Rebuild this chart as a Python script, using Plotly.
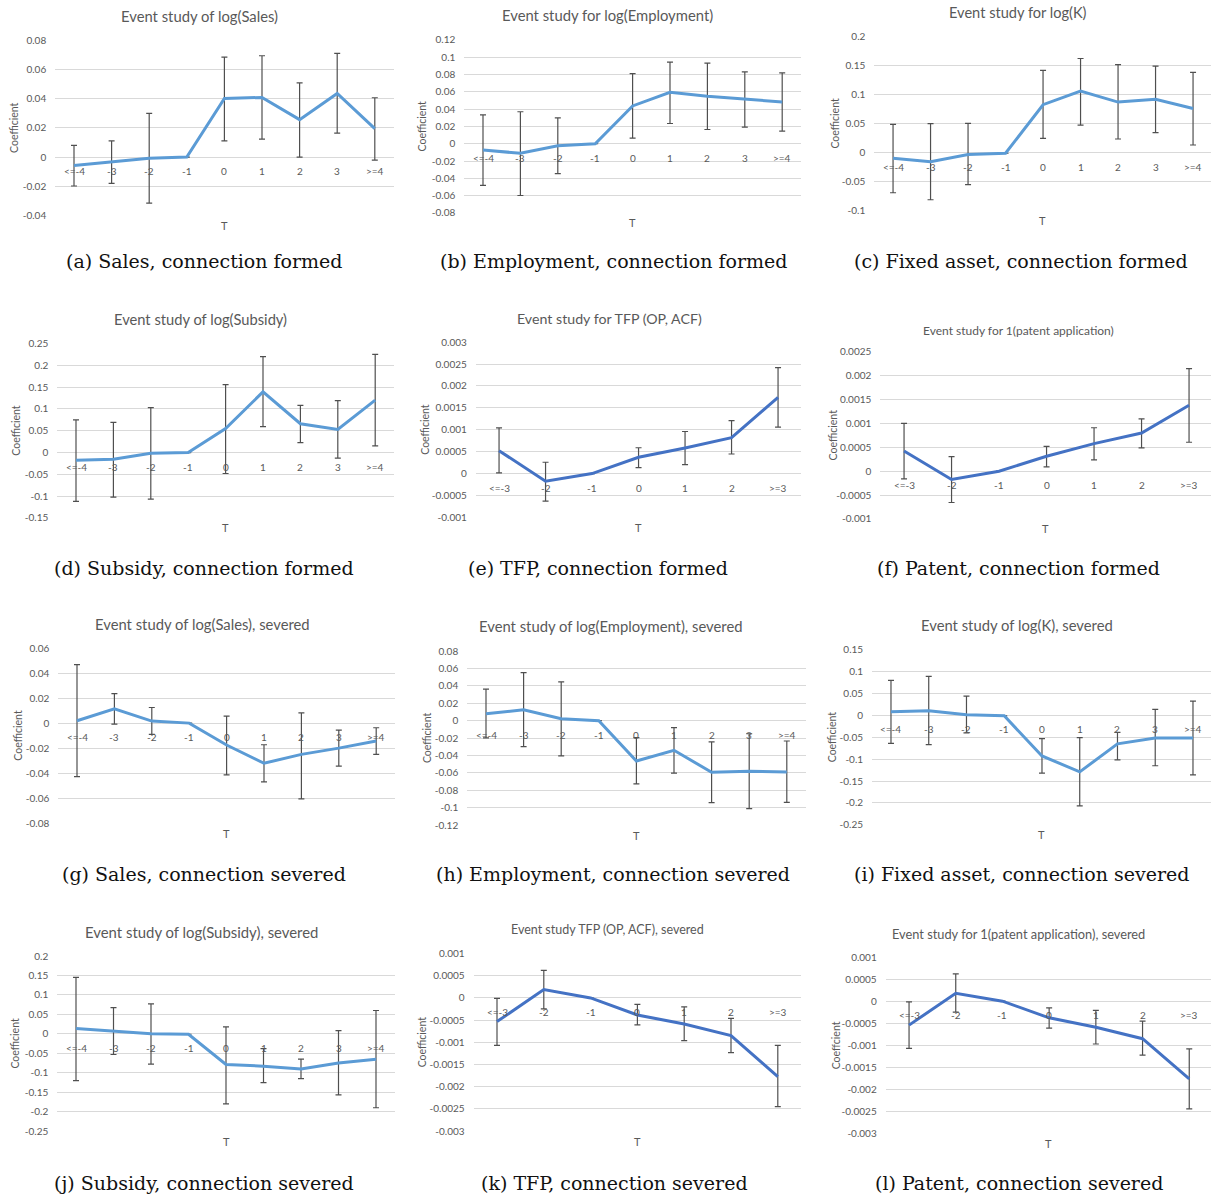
import plotly.graph_objects as go

W, H = 1211, 1199

# ---------------------------------------------------------------- data
cats_long = ["<=-4", "-3", "-2", "-1", "0", "1", "2", "3", ">=4"]
cats_short = ["<=-3", "-2", "-1", "0", "1", "2", ">=3"]

# (a) log(Sales), connection formed
sales_f_coef = [-0.0057, -0.0030, -0.0007, 0.0, 0.0402, 0.0409, 0.0257, 0.0436, 0.0195]
sales_f_hi = [0.0080, 0.0111, 0.0300, None, 0.0686, 0.0695, 0.0509, 0.0711, 0.0407]
sales_f_lo = [-0.0198, -0.0180, -0.0316, None, 0.0111, 0.0123, 0.0000, 0.0164, -0.0020]
sales_f_ticks = [0.08, 0.06, 0.04, 0.02, 0, -0.02, -0.04]

# (b) log(Employment), connection formed
emp_f_coef = [-0.0073, -0.0110, -0.0023, 0.0, 0.0437, 0.0594, 0.0548, 0.0513, 0.0483]
emp_f_hi = [0.0333, 0.0370, 0.0300, None, 0.0810, 0.0943, 0.0931, 0.0831, 0.0820]
emp_f_lo = [-0.0480, -0.0598, -0.0345, None, 0.0065, 0.0234, 0.0165, 0.0192, 0.0146]
emp_f_ticks = [0.12, 0.1, 0.08, 0.06, 0.04, 0.02, 0, -0.02, -0.04, -0.06, -0.08]

# (c) log(K), connection formed
k_f_coef = [-0.0097, -0.0155, -0.0030, -0.0010, 0.0825, 0.1060, 0.0870, 0.0920, 0.0760]
k_f_hi = [0.0487, 0.0500, 0.0504, None, 0.1415, 0.1620, 0.1515, 0.1490, 0.1380]
k_f_lo = [-0.0690, -0.0810, -0.0550, None, 0.0246, 0.0475, 0.0235, 0.0344, 0.0132]
k_f_ticks = [0.2, 0.15, 0.1, 0.05, 0, -0.05, -0.1]

# (d) log(Subsidy), connection formed
sub_f_coef = [-0.0175, -0.0152, -0.0015, 0.0, 0.0550, 0.1390, 0.0660, 0.0530, 0.1200]
sub_f_hi = [0.0747, 0.0690, 0.1030, None, 0.1555, 0.2200, 0.1080, 0.1190, 0.2250]
sub_f_lo = [-0.1120, -0.1020, -0.1067, None, -0.0480, 0.0595, 0.0229, -0.0130, 0.0152]
sub_f_ticks = [0.25, 0.2, 0.15, 0.1, 0.05, 0, -0.05, -0.1, -0.15]

# (e) TFP (OP, ACF), connection formed
tfp_f_coef = [0.000523, -0.000174, 0.0, 0.000371, 0.000583, 0.000818, 0.00174]
tfp_f_hi = [0.001045, 0.000258, None, 0.00059, 0.00096, 0.00121, 0.00242]
tfp_f_lo = [0.000015, -0.000629, None, 0.000136, 0.000205, 0.000447, 0.00106]
tfp_f_ticks = [0.003, 0.0025, 0.002, 0.0015, 0.001, 0.0005, 0, -0.0005, -0.001]

# (f) 1(patent application), connection formed
pat_f_coef = [0.000425, -0.000174, 0.0, 0.000313, 0.000578, 0.0008, 0.00138]
pat_f_hi = [0.001, 0.000306, None, 0.00052, 0.00091, 0.001097, 0.00215]
pat_f_lo = [-0.00016, -0.000655, None, 0.00009, 0.000237, 0.000487, 0.000606]
pat_f_ticks = [0.0025, 0.002, 0.0015, 0.001, 0.0005, 0, -0.0005, -0.001]

# (g) log(Sales), connection severed
sales_s_coef = [0.0019, 0.0114, 0.0016, 0.0, -0.0175, -0.0321, -0.0250, -0.0200, -0.0143]
sales_s_hi = [0.0467, 0.0236, 0.0125, None, 0.0056, -0.0173, 0.0082, -0.0056, -0.0037]
sales_s_lo = [-0.0428, -0.0008, -0.0090, None, -0.0414, -0.0470, -0.0606, -0.0343, -0.0250]
sales_s_ticks = [0.06, 0.04, 0.02, 0, -0.02, -0.04, -0.06, -0.08]

# (h) log(Employment), connection severed
emp_s_coef = [0.0080, 0.0126, 0.0023, 0.0, -0.0462, -0.0340, -0.0592, -0.0580, -0.0588]
emp_s_hi = [0.0363, 0.0553, 0.0447, None, -0.0195, -0.0080, -0.0244, -0.0150, -0.0233]
emp_s_lo = [-0.0198, -0.0298, -0.0405, None, -0.0725, -0.0603, -0.0940, -0.1010, -0.0939]
emp_s_ticks = [0.08, 0.06, 0.04, 0.02, 0, -0.02, -0.04, -0.06, -0.08, -0.1, -0.12]

# (i) log(K), connection severed
k_s_coef = [0.0083, 0.0106, 0.0015, -0.0010, -0.0926, -0.1290, -0.0650, -0.0516, -0.0516]
k_s_hi = [0.0797, 0.0888, 0.0440, None, -0.0530, -0.0508, -0.0387, 0.0137, 0.0326]
k_s_lo = [-0.0637, -0.0668, -0.0400, None, -0.1320, -0.2064, -0.1015, -0.1150, -0.1358]
k_s_ticks = [0.15, 0.1, 0.05, 0, -0.05, -0.1, -0.15, -0.2, -0.25]

# (j) log(Subsidy), connection severed
sub_s_coef = [0.0137, 0.0077, 0.0005, -0.0010, -0.0786, -0.0830, -0.0906, -0.0750, -0.0650]
sub_s_hi = [0.1450, 0.0675, 0.0770, None, 0.0180, -0.0380, -0.0650, 0.0085, 0.0600]
sub_s_lo = [-0.1200, -0.0530, -0.0780, None, -0.1800, -0.1256, -0.1150, -0.1570, -0.1900]
sub_s_ticks = [0.2, 0.15, 0.1, 0.05, 0, -0.05, -0.1, -0.15, -0.2, -0.25]

# (k) TFP (OP, ACF), connection severed
tfp_s_coef = [-0.000533, 0.000188, 0.0, -0.000383, -0.000586, -0.000848, -0.00177]
tfp_s_hi = [-0.0000075, 0.000623, None, -0.000143, -0.000203, -0.000458, -0.00107]
tfp_s_lo = [-0.00107, -0.000248, None, -0.000608, -0.00096, -0.00123, -0.00245]
tfp_s_ticks = [0.001, 0.0005, 0, -0.0005, -0.001, -0.0015, -0.002, -0.0025, -0.003]

# (l) 1(patent application), connection severed
pat_s_coef = [-0.000542, 0.00018, 0.0, -0.000377, -0.00059, -0.00085, -0.00176]
pat_s_hi = [-0.000015, 0.000617, None, -0.00015, -0.00021, -0.00045, -0.00108]
pat_s_lo = [-0.00107, -0.000248, None, -0.00061, -0.00097, -0.00122, -0.00244]
pat_s_ticks = [0.001, 0.0005, 0, -0.0005, -0.001, -0.0015, -0.002, -0.0025, -0.003]

# ---------------------------------------------------------------- styling
LIGHT_BLUE = "#5B9BD5"
DARK_BLUE = "#4472C4"
GREY_TEXT = "#595959"
GRID = "#D9D9D9"
ERR = "#4F4F4F"
SANS = "Lato, 'Open Sans', sans-serif"
SERIF = "'DejaVu Serif', 'Liberation Serif', serif"

# geometry in pixels: plot left, category spacing, plot top, plot bottom
panels = [
    dict(title="Event study of log(Sales)", tsize=14.8, tx=199, ty=14,
         caption="(a) Sales, connection formed", cx=204, cy=260,
         cats=cats_long, coef=sales_f_coef, hi=sales_f_hi, lo=sales_f_lo, ticks=sales_f_ticks,
         color=LIGHT_BLUE, geom=(55.2, 37.6, 38.5, 214), ylx=14, ylab="Coefficient"),
    dict(title="Event study for log(Employment)", tsize=14.8, tx=607, ty=13,
         caption="(b) Employment, connection formed", cx=613, cy=260,
         cats=cats_long, coef=emp_f_coef, hi=emp_f_hi, lo=emp_f_lo, ticks=emp_f_ticks,
         color=LIGHT_BLUE, geom=(464.3, 37.4, 38, 211.5), ylx=422, ylab="Coefficient"),
    dict(title="Event study for log(K)", tsize=14.6, tx=1018, ty=11,
         caption="(c) Fixed asset, connection formed", cx=1021, cy=260,
         cats=cats_long, coef=k_f_coef, hi=k_f_hi, lo=k_f_lo, ticks=k_f_ticks,
         color=LIGHT_BLUE, geom=(874.3, 37.5, 34.5, 209.3), ylx=835, ylab="Coefficient"),
    dict(title="Event study of log(Subsidy)", tsize=14.7, tx=200, ty=318,
         caption="(d) Subsidy, connection formed", cx=204, cy=567,
         cats=cats_long, coef=sub_f_coef, hi=sub_f_hi, lo=sub_f_lo, ticks=sub_f_ticks,
         color=LIGHT_BLUE, geom=(57.3, 37.4, 342.3, 517.3), ylx=16, ylab="Coefficient"),
    dict(title="Event study for TFP (OP, ACF)", tsize=14.2, tx=609, ty=317,
         caption="(e) TFP, connection formed", cx=598, cy=567,
         cats=cats_short, coef=tfp_f_coef, hi=tfp_f_hi, lo=tfp_f_lo, ticks=tfp_f_ticks,
         color=DARK_BLUE, geom=(475.8, 46.5, 341, 516.7), ylx=425, ylab="Coefficient"),
    dict(title="Event study for 1(patent application)", tsize=12, tx=1018, ty=329.5,
         caption="(f) Patent, connection formed", cx=1018, cy=567,
         cats=cats_short, coef=pat_f_coef, hi=pat_f_hi, lo=pat_f_lo, ticks=pat_f_ticks,
         color=DARK_BLUE, geom=(880.3, 47.5, 350.7, 518.3), ylx=833, ylab="Coefficient"),
    dict(title="Event study of log(Sales), severed", tsize=14.8, tx=202, ty=623.5,
         caption="(g) Sales, connection severed", cx=204, cy=874,
         cats=cats_long, coef=sales_s_coef, hi=sales_s_hi, lo=sales_s_lo, ticks=sales_s_ticks,
         color=LIGHT_BLUE, geom=(58.3, 37.4, 647.7, 823.3), ylx=18, ylab="Coefficient"),
    dict(title="Event study of log(Employment), severed", tsize=14.8, tx=611, ty=625.5,
         caption="(h) Employment, connection severed", cx=613, cy=874,
         cats=cats_long, coef=emp_s_coef, hi=emp_s_hi, lo=emp_s_lo, ticks=emp_s_ticks,
         color=LIGHT_BLUE, geom=(467.2, 37.6, 650.7, 825.3), ylx=427, ylab="Coefficient"),
    dict(title="Event study of log(K), severed", tsize=14.8, tx=1017, ty=624.5,
         caption="(i) Fixed asset, connection severed", cx=1021, cy=874,
         cats=cats_long, coef=k_s_coef, hi=k_s_hi, lo=k_s_lo, ticks=k_s_ticks,
         color=LIGHT_BLUE, geom=(872.1, 37.75, 649.3, 825), ylx=832, ylab="Coefficient"),
    dict(title="Event study of log(Subsidy), severed", tsize=14.9, tx=201, ty=932,
         caption="(j) Subsidy, connection severed", cx=204, cy=1184.5,
         cats=cats_long, coef=sub_s_coef, hi=sub_s_hi, lo=sub_s_lo, ticks=sub_s_ticks,
         color=LIGHT_BLUE, geom=(57.25, 37.5, 956.5, 1132), ylx=15, ylab="Coefficient"),
    dict(title="Event study TFP (OP, ACF), severed", tsize=12.5, tx=607, ty=930,
         caption="(k) TFP, connection severed", cx=614, cy=1184.5,
         cats=cats_short, coef=tfp_s_coef, hi=tfp_s_hi, lo=tfp_s_lo, ticks=tfp_s_ticks,
         color=DARK_BLUE, geom=(473.6, 46.8, 954, 1132), ylx=422, ylab="Coefficient"),
    dict(title="Event study for 1(patent application), severed", tsize=12.8, tx=1019, ty=934,
         caption="(l) Patent, connection severed", cx=1019, cy=1184.5,
         cats=cats_short, coef=pat_s_coef, hi=pat_s_hi, lo=pat_s_lo, ticks=pat_s_ticks,
         color=DARK_BLUE, geom=(885.7, 46.7, 957.5, 1134.5), ylx=836, ylab="Coeffcient"),
]


def px_x(v):
    return v / W


def px_y(v):
    # pixel row (from the top) -> paper fraction, with a small vertical spread correction
    v = (v - 5.0) / 0.9917
    return 1 - v / H


fig = go.Figure()
annotations = []
layout_axes = {}

for i, p in enumerate(panels, start=1):
    suffix = "" if i == 1 else str(i)
    n = len(p["cats"])
    left, step, top, bottom = p["geom"]
    right = min(left + n * step, W)
    xr = [-0.5, -0.5 + (right - left) / step]
    idx = list(range(n))

    plus = [None if h is None else h - c for h, c in zip(p["hi"], p["coef"])]
    minus = [None if l is None else c - l for l, c in zip(p["lo"], p["coef"])]

    fig.add_trace(go.Scatter(
        x=idx, y=p["coef"], mode="lines",
        line=dict(color=p["color"], width=3),
        error_y=dict(type="data", symmetric=False, array=plus, arrayminus=minus,
                     color=ERR, thickness=1.2, width=3),
        xaxis="x" + suffix, yaxis="y" + suffix,
        showlegend=False, hoverinfo="skip",
    ))

    ticks = p["ticks"]
    layout_axes["xaxis" + suffix] = dict(
        domain=[px_x(left), px_x(right)], range=xr, anchor="y" + suffix,
        showgrid=False, zeroline=False, showline=False, showticklabels=False,
        ticks="", fixedrange=True,
    )
    layout_axes["yaxis" + suffix] = dict(
        domain=[px_y(bottom), px_y(top)], range=[min(ticks), max(ticks)],
        anchor="x" + suffix, tickvals=ticks, ticktext=[f"{t:g}" for t in ticks],
        showgrid=True, gridcolor=GRID, gridwidth=1, zeroline=False, showline=False,
        ticks="", ticklabelstandoff=8,
        tickfont=dict(family=SANS, size=10, color=GREY_TEXT), fixedrange=True,
    )

    # chart title
    annotations.append(dict(
        text=p["title"], x=px_x(p["tx"]), y=px_y(p["ty"]), xref="paper", yref="paper",
        xanchor="center", yanchor="middle", showarrow=False,
        font=dict(family=SANS, size=p["tsize"], color=GREY_TEXT),
    ))
    # vertical axis title
    annotations.append(dict(
        text=p["ylab"], x=px_x(p["ylx"]), y=px_y((top + bottom) / 2), xref="paper", yref="paper",
        xanchor="center", yanchor="middle", textangle=-90, showarrow=False,
        font=dict(family=SANS, size=10.5, color=GREY_TEXT),
    ))
    # horizontal axis title
    annotations.append(dict(
        text="T", x=px_x((left + right) / 2), y=px_y(bottom + 10), xref="paper", yref="paper",
        xanchor="center", yanchor="middle", showarrow=False,
        font=dict(family=SANS, size=11, color=GREY_TEXT),
    ))
    # category labels sit just under the zero line
    for j, c in enumerate(p["cats"]):
        annotations.append(dict(
            text=c, x=j, y=0, xref="x" + suffix, yref="y" + suffix,
            xanchor="center", yanchor="middle", yshift=-14, showarrow=False,
            font=dict(family=SANS, size=10, color=GREY_TEXT),
        ))
    # sub-figure caption
    annotations.append(dict(
        text=p["caption"], x=px_x(p["cx"]), y=px_y(p["cy"]), xref="paper", yref="paper",
        xanchor="center", yanchor="middle", showarrow=False,
        font=dict(family=SERIF, size=19, color="#111111"),
    ))

fig.update_layout(
    width=W, height=H,
    margin=dict(l=0, r=0, t=0, b=0),
    paper_bgcolor="white", plot_bgcolor="white",
    annotations=annotations,
    **layout_axes,
)

fig.write_html("out.html")
